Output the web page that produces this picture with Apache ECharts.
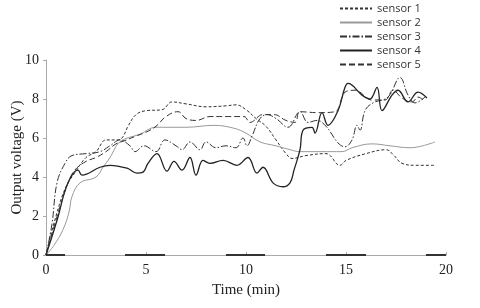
<!DOCTYPE html>
<html><head><meta charset="utf-8">
<script src="https://cdn.jsdelivr.net/npm/echarts@6/dist/echarts.min.js"></script>
<style>html,body{margin:0;padding:0;background:#fff}#c{width:480px;height:308px}</style>
</head><body><div id="c"></div>
<script>
var seriesNames = ['sensor 1','sensor 2','sensor 3','sensor 4','sensor 5'];
var xTicks = [0,5,10,15,20];
var yTicks = [0,2,4,6,8,10];

var sensor1 = [[0,0],[0.5,2.0],[1,3.5],[1.5,4.3],[2,5.0],[2.5,5.3],[3,5.9],[3.5,5.9],[3.8,6.0],[4.1,6.6],[4.5,7.2],[5,7.4],[5.8,7.45],[6.3,7.85],[7,7.75],[8,7.6],[9,7.65],[9.5,7.7],[10,7.45],[10.5,7.0],[11,6.6],[11.5,5.9],[12,5.2],[12.3,4.95],[13,5.1],[14,5.2],[14.7,4.6],[15,4.85],[16,5.2],[17,5.4],[17.4,5.1],[17.8,4.7],[18.5,4.6],[19.5,4.6]];
var sensor2 = [[0,0],[0.4,0.5],[0.85,1.3],[1.15,2.2],[1.3,3.0],[1.7,3.7],[2.5,4.0],[2.85,4.5],[3.2,5.0],[3.7,5.8],[4.7,6.2],[5.5,6.55],[7,6.55],[8.4,6.65],[9.4,6.5],[10,6.25],[10.7,5.8],[11.5,5.6],[12.2,5.4],[12.7,5.3],[13.8,5.3],[14.8,5.3],[15.3,5.5],[16.3,5.7],[17.2,5.6],[18.2,5.5],[19.45,5.8]];
var sensor3 = [[0,0],[0.3,1.6],[0.55,3.7],[0.95,4.7],[1.3,5.1],[2,5.2],[2.7,5.3],[3.2,5.6],[3.7,5.9],[4.2,5.6],[4.45,5.3],[4.9,5.6],[5.5,5.3],[5.95,5.9],[6.5,5.6],[6.8,5.4],[7.2,5.8],[7.7,5.4],[8.0,5.8],[8.5,5.5],[9.0,5.6],[9.5,5.5],[9.85,6.0],[10.05,5.6],[10.3,6.1],[10.7,7.0],[11.05,7.2],[11.5,7.0],[12.1,6.55],[12.7,7.35],[13.1,6.8],[13.55,6.9],[14.0,6.6],[14.6,5.75],[14.95,5.55],[15.3,5.9],[15.55,6.65],[15.7,6.4],[15.95,7.4],[16.35,7.8],[17.1,8.1],[17.7,9.1],[18.1,8.2],[18.45,7.8],[18.95,8.1]];
var sensor4 = [[0,0],[0.6,1.95],[0.95,3.3],[1.3,4.1],[1.6,4.35],[1.8,4.1],[2.7,4.5],[3.2,4.6],[4.05,4.45],[4.55,4.2],[4.85,4.25],[5.1,4.7],[5.55,5.2],[6.05,4.3],[6.4,4.8],[6.8,4.35],[7.2,5.0],[7.5,4.1],[7.85,4.85],[8.2,4.7],[8.85,4.85],[9.55,4.6],[10.1,5.0],[10.55,4.2],[10.85,4.5],[11.35,3.7],[11.85,3.5],[12.2,3.7],[12.4,4.35],[12.7,5.4],[12.85,6.4],[13.3,6.55],[13.45,6.25],[13.8,7.3],[14.1,6.65],[14.6,7.4],[14.95,8.6],[15.1,8.8],[15.8,8.2],[16.2,8.0],[16.55,8.6],[16.8,7.4],[17.3,8.2],[17.6,8.45],[18.1,7.85],[18.6,8.35],[19.05,8.05]];
var sensor5 = [[0,0],[0.5,1.8],[1.0,3.4],[1.4,4.3],[2,4.8],[2.5,5.0],[3,5.3],[3.5,5.7],[3.9,5.85],[4.5,6.1],[5,6.3],[5.5,6.6],[6,7.1],[6.6,7.35],[7,7.0],[7.5,6.9],[8.2,7.1],[9,7.1],[9.9,7.1],[10.2,6.8],[10.85,7.2],[11.4,7.2],[12,6.9],[12.45,6.8],[12.7,7.35],[13.6,7.3],[14.45,7.35],[14.95,8.35],[15.45,8.45],[16.3,7.95],[16.95,7.95],[17.35,8.45],[17.8,8.05],[18.3,7.85],[18.6,8.1],[18.95,7.85]];
var baseSegments = [[0,0.95],[3.95,5.95],[9,10.95],[14,16],[19,20]];

var baseData = [];
baseSegments.forEach(function(s,i){ if(i) baseData.push('-'); baseData.push([s[0],0]); baseData.push([s[1],0]); });

var styles = [
  {color:'#333', width:1, type:[3,2]},
  {color:'#999', width:1, type:'solid'},
  {color:'#333', width:1, type:[7,2,1.5,2]},
  {color:'#222', width:1.3, type:'solid'},
  {color:'#333', width:1, type:[6,3]}
];
var datas = [sensor1,sensor2,sensor3,sensor4,sensor5];
var series = datas.map(function(d,i){
  return {name:seriesNames[i], type:'line', data:d, smooth:0.4, symbol:'none',
    itemStyle:{color:styles[i].color},
    lineStyle:{color:styles[i].color, width:styles[i].width, type:styles[i].type}};
});
series.push({name:'base', type:'line', data:baseData, symbol:'none', connectNulls:false,
  lineStyle:{color:'#333', width:2}, silent:true, z:1});

var chart = echarts.init(document.getElementById('c'), null, {renderer:'canvas'});
chart.setOption({
  animation:false,
  backgroundColor:'#fff',
  grid:{left:46, right:34, top:60, bottom:53, containLabel:false, outerBoundsMode:'none'},
  legend:{data:seriesNames, orient:'vertical', left:334, top:-2, itemWidth:32, itemHeight:10, itemGap:3,
    itemStyle:{opacity:0},
    textStyle:{fontFamily:'Open Sans', fontSize:11, color:'#333'}},
  xAxis:{type:'value', min:0, max:20, interval:5,
    name:'Time (min)', nameLocation:'middle', nameGap:28, nameMoveOverlap:false,
    nameTextStyle:{fontFamily:'Liberation Serif', fontSize:15, color:'#222'},
    axisLine:{lineStyle:{color:'#aaa'}}, axisTick:{show:true, inside:true, length:3, lineStyle:{color:'#aaa'}},
    axisLabel:{fontFamily:'Liberation Serif', fontSize:14, color:'#222', margin:8,
      formatter:function(v){return xTicks.indexOf(v)>=0? String(v):'';}},
    splitLine:{show:false}},
  yAxis:{type:'value', min:0, max:10, interval:2,
    name:'Output voltage (V)', nameLocation:'middle', nameGap:21, nameMoveOverlap:false,
    nameTextStyle:{fontFamily:'Liberation Serif', fontSize:15, color:'#222'},
    axisLine:{show:true, lineStyle:{color:'#aaa'}}, axisTick:{show:true, length:3, lineStyle:{color:'#aaa'}},
    axisLabel:{fontFamily:'Liberation Serif', fontSize:14, color:'#222', margin:7,
      formatter:function(v){return yTicks.indexOf(v)>=0? String(v):'';}},
    splitLine:{show:false}},
  series:series
});
</script></body></html>
